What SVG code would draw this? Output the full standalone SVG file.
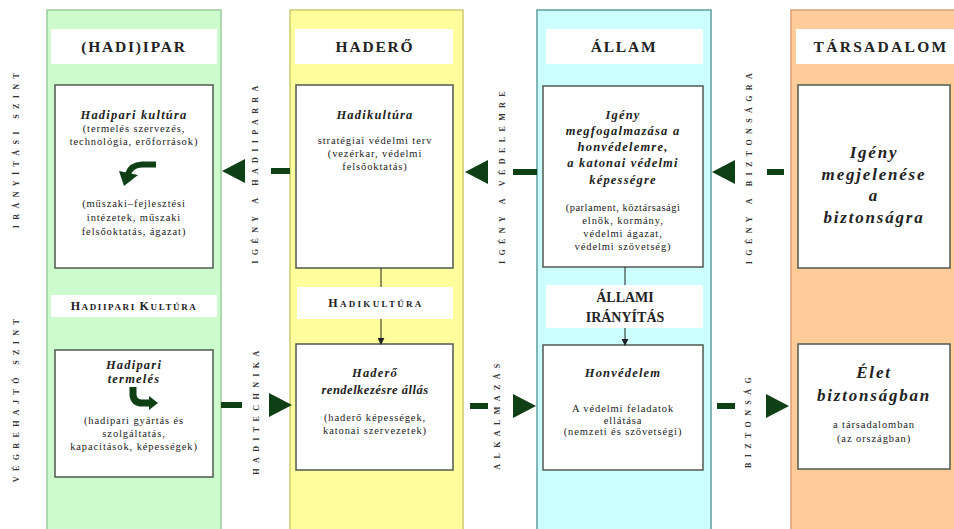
<svg xmlns="http://www.w3.org/2000/svg" width="954" height="529" viewBox="0 0 954 529" font-family="'Liberation Serif', 'DejaVu Serif', serif">
<style>
text{font-family:'Liberation Serif','DejaVu Serif',serif;fill:#222;text-anchor:middle}
.hd{font-size:15.5px;font-weight:bold;letter-spacing:1.8px}
.hd2{font-size:14px;font-weight:bold;letter-spacing:0px}
.bi{font-size:12.5px;font-weight:bold;font-style:italic;letter-spacing:1.2px}
.bi2{font-size:17px;font-weight:bold;font-style:italic;letter-spacing:1.8px}
.tx{font-size:10.5px;letter-spacing:0.9px}
.vl{font-size:8px;font-weight:bold;letter-spacing:5.4px;fill:#333}
.sc{font-weight:bold;letter-spacing:1.6px}
.box{fill:#fff;stroke:#4f5a4f;stroke-width:1.5}
.strip{fill:#fff}
.cn{stroke:#0f3f14;stroke-width:6;fill:none}
.thin{stroke:#222;stroke-width:1;fill:none}
</style>
<defs>
<marker id="ah" viewBox="0 0 24 24" refX="0" refY="12" markerWidth="24" markerHeight="24" markerUnits="userSpaceOnUse" orient="auto">
<path d="M0,0 L23,12 L0,24 Z" fill="#0f3f14"/>
</marker>
<marker id="sa" viewBox="0 0 8 8" refX="7" refY="4" markerWidth="7" markerHeight="7" markerUnits="userSpaceOnUse" orient="auto">
<path d="M0,0 L8,4 L0,8 Z" fill="#222"/>
</marker>
</defs>
<rect width="954" height="529" fill="#fff"/>

<text class="vl" transform="translate(19,148) rotate(-90)">IRÁNYÍTÁSI SZINT</text>
<text class="vl" transform="translate(19,398) rotate(-90)">VÉGREHAJTÓ SZINT</text>

<g id="col-hadiipar">
<rect x="47" y="10" width="174" height="525" fill="#cdfbcd" stroke="#9ccc9c" stroke-width="1.5"/>
<rect class="strip" x="51" y="29" width="166" height="35"/>
<text class="hd" x="134" y="52">(HADI)IPAR</text>
</g>
<g id="hadiipari-kultura">
<rect class="box" x="55" y="85" width="158" height="183"/>
<text class="bi" x="134" y="119">Hadipari kultúra</text>
<text class="tx" x="134" y="132">(termelés szervezés,</text>
<text class="tx" x="134" y="145">technológia, erőforrások)</text>
<path d="M156,164.5 H142 Q131,165 128,174" stroke="#0f3f14" stroke-width="6" fill="none"/>
<path d="M119,171 L138,175 L124,186 Z" fill="#0f3f14"/>
<text class="tx" x="134" y="207">(műszaki–fejlesztési</text>
<text class="tx" x="134" y="221">intézetek, műszaki</text>
<text class="tx" x="134" y="235">felsőoktatás, ágazat)</text>
</g>
<g id="hadiipari-kultura-label">
<rect class="strip" x="51" y="295" width="166" height="22"/>
<text class="sc" x="134" y="310"><tspan font-size="12">H</tspan><tspan font-size="9">ADIIPARI </tspan><tspan font-size="12">K</tspan><tspan font-size="9">ULTÚRA</tspan></text>
</g>
<g id="hadipari-termeles">
<rect class="box" x="55" y="350" width="158" height="127"/>
<text class="bi" x="134" y="369">Hadipari</text>
<text class="bi" x="134" y="383">termelés</text>
<path d="M133,387 V395 Q134,403 142,403 H150" stroke="#0f3f14" stroke-width="7" fill="none"/>
<path d="M149,396 L158,403 L149,410 Z" fill="#0f3f14"/>
<text class="tx" x="134" y="424">(hadipari gyártás és</text>
<text class="tx" x="134" y="437">szolgáltatás,</text>
<text class="tx" x="134" y="450">kapacitások, képességek)</text>
</g>

<g id="col-hadero">
<rect x="290" y="10" width="173" height="525" fill="#ffff9e" stroke="#cccc70" stroke-width="1.5"/>
<rect class="strip" x="295" y="29" width="158" height="35"/>
<text class="hd" x="375" y="52">HADERŐ</text>
</g>
<g id="hadikultura">
<rect class="box" x="296" y="85" width="157" height="183"/>
<text class="bi" x="375" y="119">Hadikultúra</text>
<text class="tx" x="375" y="144">stratégiai védelmi terv</text>
<text class="tx" x="375" y="157">(vezérkar, védelmi</text>
<text class="tx" x="375" y="170">felsőoktatás)</text>
</g>
<g id="hadikultura-label">
<rect class="strip" x="297" y="287" width="156" height="32"/>
<text class="sc" x="376" y="307" style="letter-spacing:2.3px"><tspan font-size="12">H</tspan><tspan font-size="9">ADIKULTÚRA</tspan></text>
</g>
<g id="hadero-rendelkezesre">
<rect class="box" x="296" y="344" width="157" height="126"/>
<text class="bi" x="375" y="377">Haderő</text>
<text class="bi" x="375" y="394" style="letter-spacing:0.5px">rendelkezésre állás</text>
<text class="tx" x="375" y="421">(haderő képességek,</text>
<text class="tx" x="375" y="434">katonai szervezetek)</text>
</g>

<g id="col-allam">
<rect x="537" y="10" width="174" height="525" fill="#ccffff" stroke="#5f9f9f" stroke-width="1.5"/>
<rect class="strip" x="546" y="29" width="157" height="35"/>
<text class="hd" x="624" y="52">ÁLLAM</text>
</g>
<g id="igeny-megfogalmazasa">
<rect class="box" x="543" y="86" width="160" height="181"/>
<text class="bi" x="623" y="119">Igény</text>
<text class="bi" x="623" y="135">megfogalmazása a</text>
<text class="bi" x="623" y="151">honvédelemre,</text>
<text class="bi" x="623" y="167">a katonai védelmi</text>
<text class="bi" x="623" y="184">képességre</text>
<text class="tx" x="623" y="211" style="letter-spacing:0.5px">(parlament, köztársasági</text>
<text class="tx" x="623" y="224">elnök, kormány,</text>
<text class="tx" x="623" y="237">védelmi ágazat,</text>
<text class="tx" x="623" y="250">védelmi szövetség)</text>
</g>
<g id="allami-iranyitas">
<rect class="strip" x="546" y="285" width="157" height="43"/>
<text class="hd2" x="625" y="302">ÁLLAMI</text>
<text class="hd2" x="625" y="322">IRÁNYÍTÁS</text>
</g>
<g id="honvedelem">
<rect class="box" x="543" y="345" width="160" height="125"/>
<text class="bi" x="623" y="377">Honvédelem</text>
<text class="tx" x="623" y="412">A védelmi feladatok</text>
<text class="tx" x="623" y="424">ellátása</text>
<text class="tx" x="623" y="435">(nemzeti és szövetségi)</text>
</g>

<g id="col-tarsadalom">
<rect x="791" y="10" width="170" height="525" fill="#ffcc99" stroke="#dc9e70" stroke-width="1.5"/>
<rect class="strip" x="796" y="29" width="158" height="35"/>
<text class="hd" x="881" y="52" style="letter-spacing:2.3px">TÁRSADALOM</text>
</g>
<g id="igeny-megjelenese">
<rect class="box" x="798" y="85" width="152" height="183"/>
<text class="bi2" x="874" y="158">Igény</text>
<text class="bi2" x="874" y="180">megjelenése</text>
<text class="bi2" x="874" y="201">a</text>
<text class="bi2" x="874" y="223">biztonságra</text>
</g>
<g id="elet-biztonsagban">
<rect class="box" x="798" y="344" width="152" height="125"/>
<text class="bi2" x="874" y="378">Élet</text>
<text class="bi2" x="874" y="401">biztonságban</text>
<text class="tx" x="874" y="428">a társadalomban</text>
<text class="tx" x="874" y="442">(az országban)</text>
</g>

<g id="connectors">
<line class="cn" x1="290" y1="171" x2="245" y2="171" stroke-dasharray="19 60" marker-end="url(#ah)"/>
<line class="cn" x1="537" y1="172" x2="488" y2="172" stroke-dasharray="24 60" marker-end="url(#ah)"/>
<line class="cn" x1="784" y1="172" x2="735" y2="172" stroke-dasharray="17 60" marker-end="url(#ah)"/>
<line class="cn" x1="221" y1="405" x2="269" y2="405" stroke-dasharray="21 60" marker-end="url(#ah)"/>
<line class="cn" x1="470" y1="406" x2="513" y2="406" stroke-dasharray="18 60" marker-end="url(#ah)"/>
<line class="cn" x1="717" y1="406" x2="766" y2="406" stroke-dasharray="18 60" marker-end="url(#ah)"/>
<line class="thin" x1="381" y1="268" x2="381" y2="287"/>
<line class="thin" x1="381" y1="319" x2="381" y2="344" marker-end="url(#sa)"/>
<line class="thin" x1="625" y1="267" x2="625" y2="285"/>
<line class="thin" x1="625" y1="328" x2="625" y2="345" marker-end="url(#sa)"/>
<text class="vl" transform="translate(258,172) rotate(-90)">IGÉNY A HADIIPARRA</text>
<text class="vl" transform="translate(505,175) rotate(-90)">IGÉNY A VÉDELEMRE</text>
<text class="vl" transform="translate(752,166) rotate(-90)">IGÉNY A BIZTONSÁGRA</text>
<text class="vl" transform="translate(259,410) rotate(-90)">HADITECHNIKA</text>
<text class="vl" transform="translate(500,414) rotate(-90)">ALKALMAZÁS</text>
<text class="vl" transform="translate(751,420) rotate(-90)">BIZTONSÁG</text>
</g>
</svg>
